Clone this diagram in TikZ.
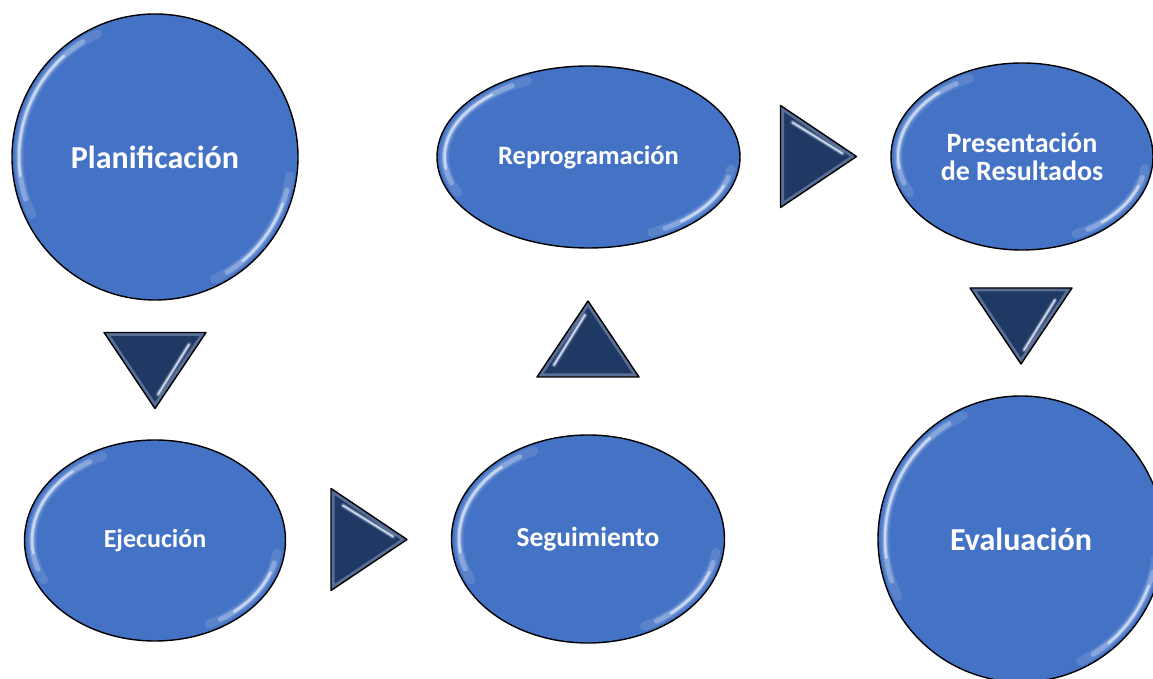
\documentclass[tikz,border=0pt]{standalone}
\usepackage{fontspec}
\setmainfont{Carlito}
\usetikzlibrary{shapes.geometric}
\definecolor{stageblue}{HTML}{4472C4}
\definecolor{pointerblue}{HTML}{203864}
\definecolor{bevelblue}{HTML}{9DB0D6}
\definecolor{glossblue}{HTML}{DDE8FA}
\tikzset{
    stage/.style={ellipse, draw=black, line width=1.4pt, fill=stageblue, text=white,
        font=\bfseries, inner sep=0pt, align=center},
    round stage/.style={stage, circle, minimum size=286pt},
    gloss/.style={glossblue, line cap=round},
    pointeredge/.style={draw=black, line width=1.4pt, line join=round},
    bevel/.style={bevelblue, line width=7pt, opacity=0.45},
    pics/pointer/.style={code={
        \fill[pointerblue] (-38,-51) -- (38,0) -- (-38,51) -- cycle;
        \begin{scope}
            \clip (-38,-51) -- (38,0) -- (-38,51) -- cycle;
            \draw[bevel] (-38,-51) -- (38,0) -- (-38,51) -- cycle;
        \end{scope}
        \foreach \w/\o in {5/0.2,2.8/0.45,1.2/0.9}
            \draw[gloss, opacity=\o, line width=\w pt] (-26,34) .. controls (8,13) .. (24,3);
        \draw[pointeredge] (-38,-51) -- (38,0) -- (-38,51) -- cycle;
    }},
}
% glossy arcs inside a stage: node, inner x radius, inner y radius
\newcommand{\glossarcs}[3]{%
    \foreach \a/\b/\w/\o in {115/205/9/0.15,122/198/5/0.35,132/188/2.5/0.75,
                             -64/-8/9/0.15,-58/-14/5/0.35,-50/-20/2.5/0.75}
        \draw[gloss, opacity=\o, line width=\w pt] (#1.center) ++(\a:#2 and #3)
            arc[start angle=\a, end angle=\b, x radius=#2, y radius=#3];
}
\begin{document}
\begin{tikzpicture}[x=1pt, y=1pt]
    \useasboundingbox (0,0) rectangle (1153,679);
    % stages
    \node[round stage, font=\bfseries\fontsize{32}{32}\selectfont] (S_plan) at (155,522) {Planificación};
    \node[stage, minimum width=261pt, minimum height=201pt, font=\bfseries\fontsize{26}{26}\selectfont]
        (S_ejec) at (155,138.5) {Ejecución};
    \node[stage, minimum width=273pt, minimum height=208pt, font=\bfseries\fontsize{27.5}{27.5}\selectfont]
        (S_segu) at (588,140) {Seguimiento};
    \node[stage, minimum width=303pt, minimum height=182pt, font=\bfseries\fontsize{26.5}{26.5}\selectfont]
        (S_repro) at (588.5,522) {Reprogramación};
    \node[stage, minimum width=262pt, minimum height=187pt, font=\bfseries\fontsize{28}{28}\selectfont]
        (S_pres) at (1022,522.5) {Presentación\\de Resultados};
    \node[round stage, font=\bfseries\fontsize{32}{32}\selectfont] (S_eval) at (1021,140) {Evaluación};
    \glossarcs{S_plan}{136}{136}
    \glossarcs{S_eval}{136}{136}
    \glossarcs{S_ejec}{123}{93}
    \glossarcs{S_segu}{129}{97}
    \glossarcs{S_repro}{144}{84}
    \glossarcs{S_pres}{124}{86}
    % pointers between stages
    \pic[rotate=-90] (P_plan) at (155,308.5) {pointer};
    \pic (P_ejec) at (369,139.5) {pointer};
    \pic[rotate=90] (P_segu) at (588,340) {pointer};
    \pic (P_repro) at (818.5,522.5) {pointer};
    \pic[rotate=-90] (P_pres) at (1021,353) {pointer};
\end{tikzpicture}
\end{document}
